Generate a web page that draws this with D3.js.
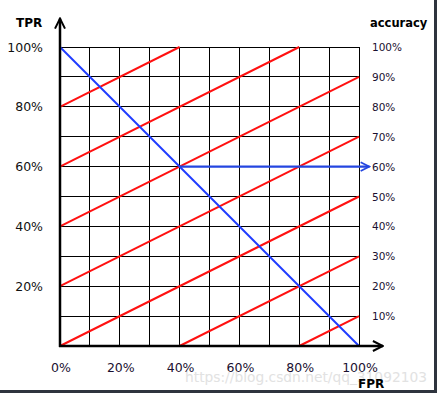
<!DOCTYPE html>
<html>
<head>
<meta charset="utf-8">
<title>ROC iso-accuracy</title>
<script src="https://cdn.jsdelivr.net/npm/d3@7"></script>
<style>
body { margin: 0; background: #fff; }
svg text { font-family: "DejaVu Sans", Verdana, sans-serif; }
.grid line { stroke: #000; stroke-width: 1; shape-rendering: crispEdges; }
.iso { stroke: #ff1010; stroke-width: 2; fill: none; }
.diag { stroke: #1f3cff; stroke-width: 2; fill: none; }
</style>
</head>
<body>
<script>
// tick labels
var fprTicks = [0, 20, 40, 60, 80, 100];
var tprTicks = [20, 40, 60, 80, 100];
var accTicks = [100, 90, 80, 70, 60, 50, 40, 30, 20, 10];
var gridSteps = [0, 10, 20, 30, 40, 50, 60, 70, 80, 90, 100];

// iso-accuracy lines (red), [fpr, tpr] end points
var isoLines = [
  [[0, 0], [100, 50]],
  [[0, 20], [100, 70]],
  [[0, 40], [100, 90]],
  [[0, 60], [80, 100]],
  [[0, 80], [40, 100]],
  [[40, 0], [100, 30]],
  [[80, 0], [100, 10]]
];
// blue diagonal and the arrow to the accuracy scale
var diagLine = [[0, 100], [100, 0]];
var accArrow = [[40, 60], [103.5, 60]];

var W = 437, H = 393;
var x = d3.scaleLinear().domain([0, 100]).range([60, 359]);
var y = d3.scaleLinear().domain([0, 100]).range([346, 47]);

var svg = d3.select("body").append("svg")
  .attr("width", W).attr("height", H);

var defs = svg.append("defs");
function arrow(id, color) {
  defs.append("marker")
    .attr("id", id)
    .attr("viewBox", "0 0 10 10")
    .attr("refX", 9).attr("refY", 5)
    .attr("markerWidth", 5).attr("markerHeight", 5)
    .attr("markerUnits", "strokeWidth")
    .attr("orient", "auto")
    .append("path")
    .attr("d", "M1,1 L9,5 L1,9")
    .attr("fill", "none")
    .attr("stroke", color)
    .attr("stroke-width", 1.6);
}
arrow("arrBlack", "#000");
arrow("arrBlue", "#2446e0");

// watermark (behind everything)
svg.append("text").attr("x", 185).attr("y", 382)
  .attr("font-family", "Liberation Sans, Arial, sans-serif")
  .attr("font-size", "14px").attr("fill", "#e2e2e2")
  .attr("textLength", 242).attr("lengthAdjust", "spacingAndGlyphs")
  .text("https://blog.csdn.net/qq_31092103");

// grid
var grid = svg.append("g").attr("class", "grid");
grid.selectAll("line.v").data(gridSteps).enter().append("line")
  .attr("class", "v")
  .attr("x1", function(d) { return x(d); }).attr("x2", function(d) { return x(d); })
  .attr("y1", y(0)).attr("y2", y(100));
grid.selectAll("line.h").data(gridSteps).enter().append("line")
  .attr("class", "h")
  .attr("x1", x(0)).attr("x2", x(100))
  .attr("y1", function(d) { return y(d); }).attr("y2", function(d) { return y(d); });

var line = d3.line()
  .x(function(d) { return x(d[0]); })
  .y(function(d) { return y(d[1]); });

svg.selectAll("path.iso").data(isoLines).enter().append("path")
  .attr("class", "iso")
  .attr("d", line);

svg.append("path").datum(diagLine)
  .attr("class", "diag")
  .attr("d", line);

svg.append("path").datum(accArrow)
  .attr("d", line)
  .attr("stroke", "#2446e0").attr("stroke-width", 2.2).attr("fill", "none")
  .attr("marker-end", "url(#arrBlue)");

// axes with arrows
svg.append("line")
  .attr("x1", x(0)).attr("x2", x(0))
  .attr("y1", y(0) + 1).attr("y2", y(109.5))
  .attr("stroke", "#000").attr("stroke-width", 2.5)
  .attr("marker-end", "url(#arrBlack)");
svg.append("line")
  .attr("x1", x(0) - 1).attr("x2", x(108))
  .attr("y1", y(0)).attr("y2", y(0))
  .attr("stroke", "#000").attr("stroke-width", 2.5)
  .attr("marker-end", "url(#arrBlack)");

// labels
svg.selectAll("text.tpr").data(tprTicks).enter().append("text")
  .attr("x", 43).attr("y", function(d) { return y(d) + 4.5; })
  .attr("text-anchor", "end").attr("font-size", "12.5px").attr("fill", "#111")
  .text(function(d) { return d + "%"; });

svg.selectAll("text.fpr").data(fprTicks).enter().append("text")
  .attr("x", function(d) { return x(d) + 1; }).attr("y", 372)
  .attr("text-anchor", "middle").attr("font-size", "12.5px").attr("fill", "#1a1030")
  .text(function(d) { return d + "%"; });

svg.selectAll("text.acc").data(accTicks).enter().append("text")
  .attr("x", 372).attr("y", function(d) { return y(d) + 4; })
  .attr("font-size", "10.5px").attr("fill", "#1a1030")
  .text(function(d) { return d + "%"; });

svg.append("text").attr("x", 16).attr("y", 27)
  .attr("font-size", "12px").attr("font-weight", "bold").text("TPR");
svg.append("text").attr("x", 370).attr("y", 27)
  .attr("font-size", "11.5px").attr("font-weight", "bold").text("accuracy");
svg.append("text").attr("x", 358).attr("y", 388)
  .attr("font-size", "12px").attr("font-weight", "bold").text("FPR");

// window frame on right and bottom
svg.append("rect").attr("x", 434).attr("y", 0).attr("width", 3).attr("height", H).attr("fill", "#2e343e");
svg.append("rect").attr("x", 0).attr("y", 390).attr("width", W).attr("height", 3).attr("fill", "#2e343e");
</script>
</body>
</html>
